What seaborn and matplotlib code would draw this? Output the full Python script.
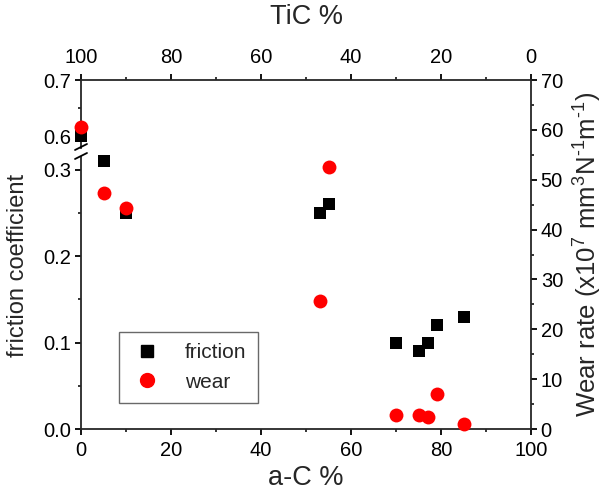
import numpy as np
import pandas as pd
import matplotlib
matplotlib.use("Agg")
import matplotlib.pyplot as plt
from matplotlib.ticker import MultipleLocator, FixedLocator
from matplotlib.lines import Line2D
import seaborn as sns

# ---- data ----
aC_percent = [0, 5, 10, 53, 55, 70, 75, 77, 79, 85]
friction = [0.60, 0.31, 0.25, 0.25, 0.26, 0.10, 0.09, 0.10, 0.12, 0.13]
wear = [60.6, 47.4, 44.4, 25.6, 52.6, 2.8, 2.8, 2.5, 7.0, 1.1]
bottom_ticks = [0, 20, 40, 60, 80, 100]
top_tick_labels = ["100", "80", "60", "40", "20", "0"]

df = pd.DataFrame({"aC": aC_percent, "friction": friction, "wear": wear})

sns.set_style("ticks")
plt.rcParams["font.family"] = ["Liberation Sans", "DejaVu Sans"]
plt.rcParams["axes.linewidth"] = 1.3
plt.rcParams["mathtext.fontset"] = "custom"
plt.rcParams["mathtext.rm"] = "Liberation Sans"
plt.rcParams["mathtext.it"] = "Liberation Sans:italic"

W, H = 608, 494
fig = plt.figure(figsize=(W / 100, H / 100), dpi=100)

def fr(x0, y0, x1, y1):
    # pixel box (top-left origin) -> figure fraction rect
    return [x0 / W, 1 - y1 / H, (x1 - x0) / W, (y1 - y0) / H]

xl, xr = 81, 531
ax_lo = fig.add_axes(fr(xl, 157, xr, 429))
ax_hi = fig.add_axes(fr(xl, 80, xr, 148))
ax_w = fig.add_axes(fr(xl, 80, xr, 429))
ax_w.patch.set_alpha(0)

LO_MAX, HI_MIN = 0.3145, 0.5786
MAJ, MIN = 4.5, 2.5
tick_kw = dict(direction="out", width=1.3, labelsize=14.5, colors="black")
sq_size = 80
ci_size = 100

parts = ((ax_lo, df[df["friction"] <= LO_MAX]), (ax_hi, df[df["friction"] >= HI_MIN]))
for ax, sub in parts:
    sns.scatterplot(data=sub, x="aC", y="friction", ax=ax, marker="s", s=sq_size,
                    color="black", edgecolor="black", linewidth=0, legend=False,
                    zorder=3)
    ax.collections[-1].set_clip_on(False)
    ax.set_xlim(0, 100)
    ax.set_ylabel("")
    ax.set_xlabel("")
    ax.spines["right"].set_visible(False)

# lower friction axis
ax_lo.set_ylim(0, LO_MAX)
ax_lo.spines["top"].set_visible(False)
ax_lo.yaxis.set_major_locator(FixedLocator([0.0, 0.1, 0.2, 0.3]))
ax_lo.yaxis.set_minor_locator(FixedLocator([0.05, 0.15, 0.25]))
ax_lo.set_yticklabels(["0.0", "0.1", "0.2", "0.3"])
ax_lo.xaxis.set_major_locator(FixedLocator(bottom_ticks))
ax_lo.xaxis.set_minor_locator(MultipleLocator(10))
ax_lo.tick_params(which="major", length=MAJ, **tick_kw)
ax_lo.tick_params(which="minor", length=MIN, direction="out", width=1.3)
ax_lo.tick_params(axis="x", which="major", pad=4)
ax_lo.tick_params(axis="y", which="major", pad=2.5)
ax_lo.set_xlabel("a-C %", fontsize=19.5, labelpad=4)

# upper friction axis
ax_hi.set_ylim(HI_MIN, 0.7)
ax_hi.spines["bottom"].set_visible(False)
ax_hi.yaxis.set_major_locator(FixedLocator([0.6, 0.7]))
ax_hi.yaxis.set_minor_locator(FixedLocator([0.65]))
ax_hi.set_yticklabels(["0.6", "0.7"])
ax_hi.xaxis.tick_top()
ax_hi.xaxis.set_label_position("top")
ax_hi.xaxis.set_major_locator(FixedLocator(bottom_ticks))
ax_hi.set_xticklabels(top_tick_labels)
ax_hi.xaxis.set_minor_locator(MultipleLocator(10))
ax_hi.tick_params(which="major", length=MAJ, **tick_kw)
ax_hi.tick_params(which="minor", length=MIN, direction="out", width=1.3)
ax_hi.tick_params(axis="x", which="major", pad=5)
ax_hi.tick_params(axis="y", which="major", pad=2.5)
ax_hi.set_xlabel("TiC %", fontsize=19.5, labelpad=17)

# wear axis (full height, right)
sns.scatterplot(data=df, x="aC", y="wear", ax=ax_w, marker="o", s=ci_size,
                color="#ff0000", edgecolor="#ff0000", linewidth=0, legend=False,
                zorder=4)
ax_w.collections[-1].set_clip_on(False)
ax_w.set_xlim(0, 100)
ax_w.set_ylim(0, 70)
for s in ("left", "top", "bottom"):
    ax_w.spines[s].set_visible(False)
ax_w.spines["right"].set_visible(True)
ax_w.set_xticks([])
ax_w.set_xlabel("")
ax_w.yaxis.tick_right()
ax_w.yaxis.set_label_position("right")
ax_w.yaxis.set_major_locator(MultipleLocator(10))
ax_w.yaxis.set_minor_locator(MultipleLocator(5))
ax_w.tick_params(which="major", length=MAJ, **tick_kw)
ax_w.tick_params(which="minor", length=MIN, direction="out", width=1.3)
ax_w.tick_params(axis="y", which="major", pad=2.5)
ax_w.set_ylabel(r"Wear rate (x10$^{7}$ mm$^{3}$N$^{\text{-}1}$m$^{\text{-}1}$)",
                fontsize=18.5, labelpad=6)

# break marks on the left spine
trans = fig.transFigure
for ypx in (147, 156):
    fig.add_artist(Line2D([(xl - 6) / W, (xl + 6) / W],
                          [1 - (ypx + 3) / H, 1 - (ypx - 3) / H],
                          color="black", lw=1.3, transform=trans))

fig.text(18 / W, 1 - 265 / H, "friction coefficient", rotation=90,
         fontsize=17, ha="center", va="center")

# legend
h1 = Line2D([], [], marker="s", ls="none", color="black", markersize=9)
h2 = Line2D([], [], marker="o", ls="none", color="#ff0000", markersize=10)
leg = ax_w.legend([h1, h2], ["friction", "wear"], loc="lower left",
                  bbox_to_anchor=((119 - xl) / (xr - xl), (429 - 403) / (429 - 80)),
                  frameon=True, fancybox=False, edgecolor="#444444",
                  fontsize=15, handletextpad=1.0, borderpad=0.55,
                  labelspacing=0.5, borderaxespad=0, handlelength=1.6)
leg.get_frame().set_linewidth(1.0)

fig.savefig("out.png", dpi=100)
